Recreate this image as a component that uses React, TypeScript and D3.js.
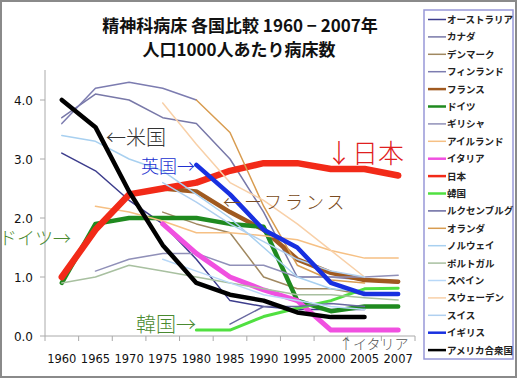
import React from "react";
import * as d3 from "d3";

const years = ["1960", "1965", "1970", "1975", "1980", "1985", "1990", "1995", "2000", "2005", "2007"];
const yTicks = [0, 1, 2, 3, 4];

type S = { name: string; color: string; width: number; values: (number | null)[] };

const australia = [3.1, 2.8, 2.3, 1.9, 1.3, 0.6, 0.5, 0.45, 0.45, 0.45, null];
const canada = [3.7, 4.1, 4.0, 3.7, 3.6, 3.0, 2.1, 1.0, 1.0, 0.95, 0.9];
const denmark = [null, null, null, 2.1, 1.9, 1.75, 1.0, 0.8, 0.8, 0.7, 0.7];
const finland = [3.6, 4.2, 4.3, 4.2, 4.0, null, null, null, null, null, null];
const france = [null, null, null, 2.5, 2.45, 2.1, 1.8, 1.3, 1.07, 0.95, 0.92];
const germany = [0.9, 1.9, 2.0, 2.0, 2.0, 1.9, 1.85, 0.6, 0.42, 0.5, 0.5];
const greece = [null, 1.1, 1.3, 1.4, 1.4, 1.2, 1.2, 1.0, 1.0, 1.0, 1.03];
const ireland = [null, 2.2, 2.1, 1.95, 1.75, 1.75, 1.7, 1.63, 1.45, 1.32, 1.32];
const italy = [null, null, null, 1.9, 1.4, 1.0, 0.78, 0.6, 0.1, 0.1, 0.1];
const japan = [1.0, 1.8, 2.4, 2.5, 2.6, 2.8, 2.93, 2.93, 2.83, 2.83, 2.72];
const korea = [null, null, null, null, 0.1, 0.1, 0.33, 0.47, 0.6, 0.8, 0.81];
const luxembourg = [null, null, null, null, null, 0.2, 0.5, 0.5, 0.55, 0.5, null];
const netherlands = [null, null, null, null, 4.0, 3.45, 2.2, 1.2, 0.95, 0.9, null];
const norway = [3.4, 3.3, 3.0, 2.8, 2.4, 2.0, 1.5, 1.0, 0.8, 0.75, null];
const portugal = [0.9, 1.0, 1.2, 1.1, 1.0, 0.9, 0.8, 0.7, 0.7, 0.65, 0.61];
const spain = [null, null, null, 1.3, 1.1, 0.9, 0.7, 0.6, 0.5, 0.45, null];
const sweden = [null, null, null, 3.95, 3.25, 2.6, 2.3, 1.9, 1.45, 1.0, null];
const switzerland = [null, null, null, 2.6, 2.27, 1.9, 1.6, 1.3, 1.1, 1.0, null];
const uk = [null, null, null, null, 2.9, 2.4, 1.8, 1.5, 0.9, 0.71, 0.71];
const usa = [4.0, 3.54, 2.45, 1.54, 0.9, 0.7, 0.6, 0.4, 0.32, 0.32, null];

const series: S[] = [
  { name: "オーストラリア", color: "#3c3c8c", width: 1.5, values: australia },
  { name: "カナダ", color: "#7878a8", width: 1.5, values: canada },
  { name: "デンマーク", color: "#a08860", width: 1.5, values: denmark },
  { name: "フィンランド", color: "#7c7cb0", width: 1.5, values: finland },
  { name: "フランス", color: "#a05a20", width: 4.5, values: france },
  { name: "ドイツ", color: "#1f8a1f", width: 4.5, values: germany },
  { name: "ギリシャ", color: "#9090b8", width: 1.5, values: greece },
  { name: "アイルランド", color: "#f6c084", width: 1.5, values: ireland },
  { name: "イタリア", color: "#f050e0", width: 5, values: italy },
  { name: "日本", color: "#f22a18", width: 6.5, values: japan },
  { name: "韓国", color: "#50e040", width: 3, values: korea },
  { name: "ルクセンブルグ", color: "#6868a0", width: 1.5, values: luxembourg },
  { name: "オランダ", color: "#d89c50", width: 1.5, values: netherlands },
  { name: "ノルウェイ", color: "#a8d0f0", width: 1.5, values: norway },
  { name: "ポルトガル", color: "#a8c0a0", width: 1.5, values: portugal },
  { name: "スペイン", color: "#b8d8f8", width: 1.5, values: spain },
  { name: "スウェーデン", color: "#f8d0a8", width: 1.5, values: sweden },
  { name: "スイス", color: "#b0d0f0", width: 1.5, values: switzerland },
  { name: "イギリス", color: "#1830e0", width: 4.5, values: uk },
  { name: "アメリカ合衆国", color: "#000000", width: 4.5, values: usa },
];

const W = 517;
const H = 378;
const sans = "'Noto Sans CJK JP', 'DejaVu Sans', sans-serif";

export default function App() {
  const x = d3.scaleBand<string>().domain(years).range([45, 415]);
  const y = d3.scaleLinear().domain([0, 4.5]).range([336, 70.5]);
  const cx = (yr: string) => (x(yr) as number) + x.bandwidth() / 2;
  const line = d3
    .line<number | null>()
    .defined((d) => d != null)
    .x((_d, i) => cx(years[i]))
    .y((d) => y(d as number));

  const legendY = (i: number) => 19.5 + i * 17.4;
  const boundaries = years.map((yr) => x(yr) as number).concat([415]);

  return (
    <svg width={W} height={H} style={{ position: "absolute", left: 0, top: 0, background: "#fff" }}>
      <rect x={1} y={1} width={W - 2} height={H - 2} fill="#fff" stroke="#8a8a8a" strokeWidth={2} />
      {/* title */}
      <text x={240} y={32} textAnchor="middle" fontFamily={sans} fontSize={17} fontWeight={600} fill="#111">
        精神科病床 各国比較 1960 − 2007年
      </text>
      <text x={239} y={56} textAnchor="middle" fontFamily={sans} fontSize={17} fontWeight={600} fill="#111">
        人口1000人あたり病床数
      </text>

      {/* axes */}
      <line x1={45} x2={45} y1={70} y2={336} stroke="#aaa" strokeWidth={1} />
      {yTicks.map((t) => (
        <g key={t}>
          <line x1={40} x2={45} y1={y(t)} y2={y(t)} stroke="#aaa" />
          <text x={33} y={y(t) + 4.5} textAnchor="end" fontFamily="'DejaVu Sans', sans-serif" fontSize={12} fill="#111">
            {t.toFixed(1)}
          </text>
        </g>
      ))}
      <line x1={45} x2={415} y1={336} y2={336} stroke="#aaa" strokeWidth={1} />
      {boundaries.map((b, i) => (
        <line key={i} x1={b} x2={b} y1={336} y2={341} stroke="#aaa" />
      ))}
      {years.map((yr) => (
        <text key={yr} x={cx(yr)} y={363} textAnchor="middle" fontFamily="'DejaVu Sans', sans-serif" fontSize={11.5} fill="#111">
          {yr}
        </text>
      ))}

      {/* lines */}
      {series.map((s) => (
        <path
          key={s.name}
          d={line(s.values) || ""}
          fill="none"
          stroke={s.color}
          strokeWidth={s.width}
          strokeLinejoin="round"
          strokeLinecap="round"
        />
      ))}

      {/* annotations */}
      <text x={106} y={145} fontFamily={sans} fontWeight={300} fontSize={20} fill="#333">←米国</text>
      <text x={141} y={173} fontFamily={sans} fontWeight={300} fontSize={18} fill="#2030d0">英国→</text>
      <text x={326} y={163} fontFamily={sans} fontWeight={300} fontSize={26} fill="#e02020">↓日本</text>
      <text x={223} y={209} fontFamily={sans} fontWeight={300} fontSize={18} letterSpacing={3} fill="#7a4a20">←ーフランス</text>
      <text x={-1} y={245} fontFamily={sans} fontWeight={300} fontSize={18} fill="#4a8a30">ドイツ→</text>
      <text x={136} y={332} fontFamily={sans} fontWeight={300} fontSize={20} fill="#4a8a30">韓国→</text>
      <text x={339} y={349} fontFamily={sans} fontWeight={300} fontSize={14} fill="#555">↑イタリア</text>

      {/* legend */}
      <rect x={424} y={10} width={89} height={349} fill="#fff" stroke="#9898d8" strokeWidth={1.5} />
      {series.map((s, i) => (
        <g key={s.name}>
          <line x1={428} x2={446} y1={legendY(i)} y2={legendY(i)} stroke={s.color} strokeWidth={s.width > 2 ? 2.5 : 1.5} />
          <text x={447} y={legendY(i) + 3.5} fontFamily={sans} fontSize={9.5} fontWeight={700} fill="#222">
            {s.name}
          </text>
        </g>
      ))}
    </svg>
  );
}
